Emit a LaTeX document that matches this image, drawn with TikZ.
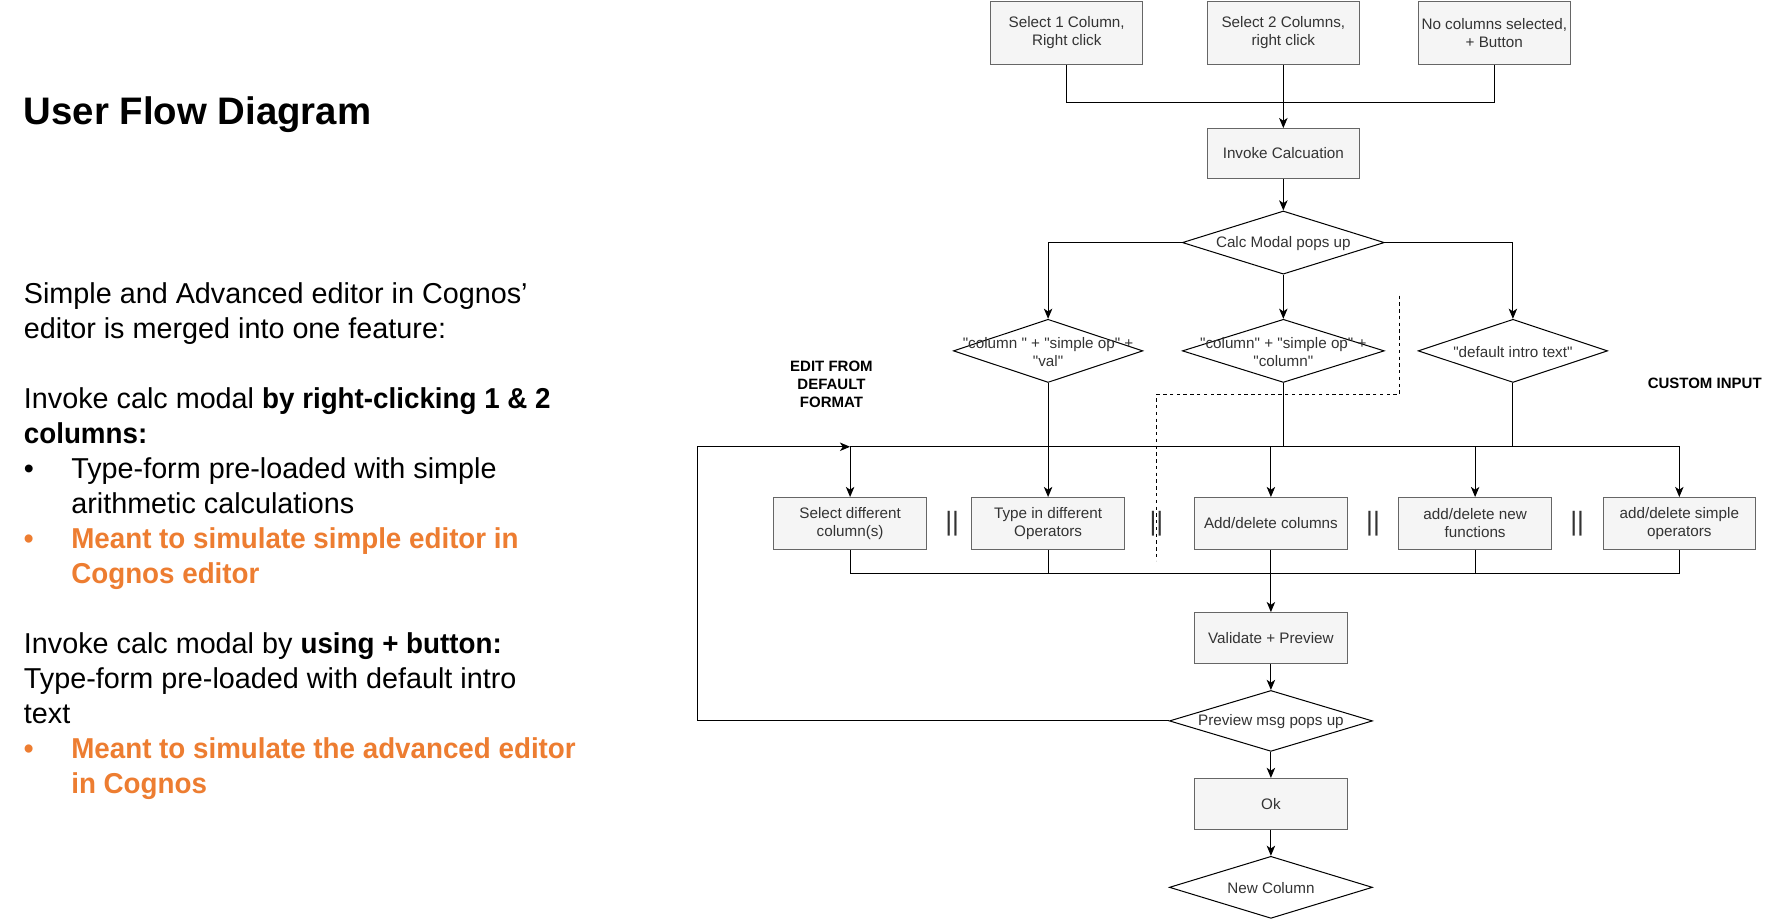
\documentclass[tikz,border=0pt]{standalone}
\usepackage{fontspec}
\setmainfont{Liberation Sans}
\newfontfamily\notefont{Liberation Sans}[BoldFeatures={FakeStretch=0.965}]
\usetikzlibrary{arrows.meta,positioning,shapes.geometric}
\definecolor{boxfill}{HTML}{F5F5F5}
\definecolor{boxline}{HTML}{666666}
\definecolor{flowtext}{HTML}{333333}
\definecolor{noteorange}{HTML}{ED7D31}
\newcommand{\strq}[1]{\textquotedbl#1\textquotedbl}

\begin{document}
\begin{tikzpicture}[x=1pt, y=-1pt,
        block/.style={draw=boxline, fill=boxfill, line width=0.9pt, minimum width=135pt, minimum height=45pt, inner sep=1pt, align=center, text=flowtext, font=\fontsize{13.5}{16}\selectfont},
        topblock/.style={block, minimum height=56pt},
        rowblock/.style={block, minimum height=46pt},
        decision/.style={draw, diamond, line width=0.9pt, minimum width=168pt, minimum height=56pt, inner sep=0pt},
        widedecision/.style={decision, minimum width=179pt},
        dlabel/.style={align=center, text=flowtext, font=\fontsize{13.5}{16}\selectfont, inner sep=0pt, yshift=-1pt},
        tag/.style={align=center, font=\fontsize{13.3}{16}\selectfont\bfseries},
        barsep/.style={text=flowtext, font=\fontsize{23.5}{24}\selectfont, inner sep=0pt},
        note/.style={anchor=base west, align=left, inner sep=0pt, font=\notefont\fontsize{25.5}{31}\selectfont},
        hot/.style={note, text=noteorange, font=\notefont\fontsize{25.5}{31}\selectfont\bfseries},
        flow/.style={-{Stealth[length=9pt, width=7.5pt, inset=2.5pt]}, line width=0.9pt},
        wire/.style={line width=0.9pt}
    ]
    \useasboundingbox (0,0) rectangle (1568,814.6);

    % Notes on the left (base = last line)
    \node[anchor=base west, inner sep=0pt, font=\fontsize{34}{40}\selectfont\bfseries] (title) at (21,110) {User Flow Diagram};
    \node[note] (intro) at (21,300) {Simple and Advanced editor in Cognos’\\editor is merged into one feature:};
    \node[note] (rclick) at (21,393) {Invoke calc modal \textbf{by right-clicking 1 \& 2}\\\textbf{columns:}};
    \node[note] (dot1) at (21,424) {\textbullet};
    \node[note] (item1) at (63,455) {Type-form pre-loaded with simple\\arithmetic calculations};
    \node[hot] (dot2) at (21,486) {\textbullet};
    \node[hot] (item2) at (63,517) {Meant to simulate simple editor in\\Cognos editor};
    \node[note] (plusbtn) at (21,641) {Invoke calc modal by \textbf{using + button:}\\Type-form pre-loaded with default intro\\text};
    \node[hot] (dot3) at (21,672) {\textbullet};
    \node[hot] (item3) at (63,703) {Meant to simulate the advanced editor\\in Cognos};

    % Entry points
    \node[topblock] (sel1) at (945.5,29) {Select 1 Column,\\Right click};
    \node[topblock] (sel2) at (1137.5,29) {Select 2 Columns,\\right click};
    \node[topblock] (nosel) at (1324.5,29) {No columns selected,\\+ Button};
    \coordinate (merge) at (1137.5,91);
    \node[block, minimum height=44pt] (invoke) at (1137.5,136) {Invoke Calcuation};
    \node[widedecision, label={[dlabel]center:Calc Modal pops up}] (modal) at (1137.5,215) {};

    % Pre-loaded forms
    \node[decision, label={[dlabel]center:{\strq{column } + \strq{simple op} +\\\strq{val}}}] (simpleop) at (929,311) {};
    \node[widedecision, label={[dlabel]center:{\strq{column} + \strq{simple op} +\\\strq{column}}}] (twocol) at (1137.5,311) {};
    \node[decision, label={[dlabel]center:\strq{default intro text}}] (deftext) at (1341,311) {};
    \node[tag] (editlbl) at (737,341) {EDIT FROM\\DEFAULT\\FORMAT};
    \node[tag] (customlbl) at (1511,340) {CUSTOM INPUT};
    \coordinate (busL) at (618,396);
    \coordinate (busR) at (1488.5,396);
    \coordinate (lowR) at (1488.5,508);
    \coordinate (dashtop) at (1240,262);
    \coordinate (dashbend) at (1025,350);
    \coordinate (dashend) at (1025,497);

    % Edits
    \node[rowblock] (selcol) at (753.5,464) {Select different\\column(s)};
    \node[rowblock] (typeop) at (929,464) {Type in different\\Operators};
    \node[rowblock] (addcol) at (1126.5,464) {Add/delete columns};
    \node[rowblock] (addfun) at (1307.5,464) {add/delete new\\functions};
    \node[rowblock] (addop) at (1488.5,464) {add/delete simple\\operators};
    \node[barsep] (bar1) at (844,464) {||};
    \node[barsep] (bar2) at (1025,464) {||};
    \node[barsep] (bar3) at (1217,464) {||};
    \node[barsep] (bar4) at (1398,464) {||};

    % Result
    \node[block] (validate) at (1126.5,565.5) {Validate + Preview};
    \node[decision, minimum width=180pt, minimum height=54pt, label={[dlabel]center:Preview msg pops up}] (preview) at (1126.5,639) {};
    \node[block] (ok) at (1126.5,712.5) {Ok};
    \node[decision, minimum width=180pt, minimum height=55pt, label={[dlabel]center:New Column}] (newcol) at (1126.5,786.5) {};

    % Arrows
    \draw[wire] (sel1.south) |- (merge) -| (nosel.south);
    \draw[flow] (sel2) -- (invoke);
    \draw[flow] (invoke) -- (modal);
    \draw[flow] (modal.west) -| (simpleop.north);
    \draw[flow] (modal) -- (twocol);
    \draw[flow] (modal.east) -| (deftext.north);
    \draw[flow] (simpleop) -- (typeop);
    \draw[wire] (twocol.south) -- (twocol.south |- busL);
    \draw[wire] (deftext.south) -- (deftext.south |- busL);
    \draw[wire, dash pattern=on 3pt off 3pt, line width=0.8pt] (dashtop) |- (dashbend) -- (dashend);
    \draw[flow] (preview.west) -| (busL) -- (selcol.north |- busL);
    \draw[flow] (selcol.north |- busL) -- (busR) -- (addop);
    \draw[flow] (selcol.north |- busL) -- (selcol);
    \draw[flow] (addcol.north |- busL) -- (addcol);
    \draw[flow] (addfun.north |- busL) -- (addfun);
    \draw[wire] (selcol.south) |- (lowR) -- (addop.south);
    \draw[wire] (typeop.south) -- (typeop.south |- lowR);
    \draw[wire] (addfun.south) -- (addfun.south |- lowR);
    \draw[flow] (addcol) -- (validate);
    \draw[flow] (validate) -- (preview);
    \draw[flow] (preview) -- (ok);
    \draw[flow] (ok) -- (newcol);
\end{tikzpicture}
\end{document}
